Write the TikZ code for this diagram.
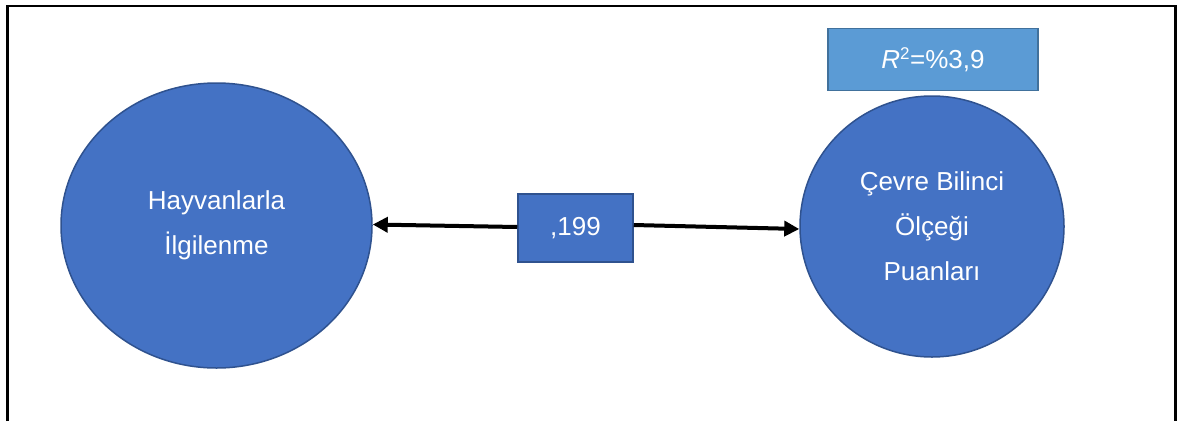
\documentclass[tikz,border=0pt]{standalone}
\usepackage{fontspec}
\setmainfont{Liberation Sans}
\usetikzlibrary{shapes.geometric,arrows.meta}
\definecolor{nodefill}{HTML}{4472C4}
\definecolor{nodeline}{HTML}{2F528F}
\definecolor{rfill}{HTML}{5B9BD5}
\definecolor{rline}{HTML}{41719C}
\tikzset{
  latent/.style={ellipse, draw=nodeline, line width=1.5pt, fill=nodefill, text=white, align=center, inner sep=0pt},
  coefbox/.style={rectangle, draw=nodeline, line width=1.5pt, fill=nodefill, text=white, inner sep=0pt},
  rbox/.style={rectangle, draw=rline, line width=1.5pt, fill=rfill, text=white, inner sep=0pt},
  path/.style={line width=4pt, -{Triangle[length=15pt,width=15pt]}}
}
\begin{document}
\begin{tikzpicture}[x=1pt,y=-1pt,font=\fontsize{26}{45}\selectfont]
\useasboundingbox (0,0) rectangle (1178,421);
% frame, open at the bottom
\coordinate (BL) at (7.5,421);
\coordinate (TL) at (7.5,6);
\coordinate (TR) at (1175.5,6);
\coordinate (BR) at (1175.5,421);
\draw [line width=2.5pt] (BL) -- (TL) -- (TR) -- (BR);
% latent variables
\node [latent, minimum width=311pt, minimum height=285pt] (hayvan) at (216.5,225.5) {Hayvanlarla\\İlgilenme};
\node [latent, minimum width=264pt, minimum height=261pt] (cevre) at (932,226.5) {Çevre Bilinci\\Ölçeği\\Puanları};
% coefficient and R2
\node [coefbox, minimum width=115pt, minimum height=68pt] (coef) at (575.5,228) {,199};
\node [rbox, minimum width=210pt, minimum height=62pt] (rsq) at (933,59.5) {\textit{R}\textsuperscript{\fontsize{17}{17}\selectfont 2}=\%3,9};
\draw [path] ([yshift=1pt]coef.west) -- ([yshift=1pt]hayvan.east);
\draw [path] ([yshift=3pt]coef.east) -- ([yshift=-2.5pt]cevre.west);
\end{tikzpicture}
\end{document}
